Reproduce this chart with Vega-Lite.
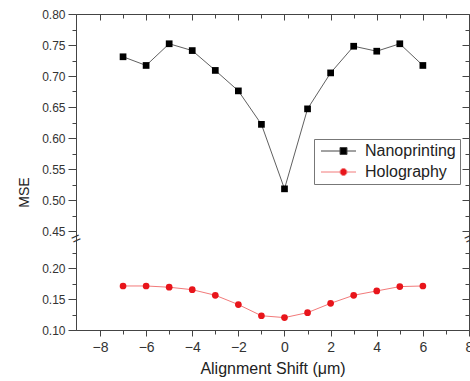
{
  "$schema": "https://vega.github.io/schema/vega-lite/v6.json",
  "width": 393,
  "height": 316,
  "autosize": "none",
  "padding": {"left": 76, "top": 14, "right": 1, "bottom": 51},
  "config": {
    "view": {"stroke": "#444", "strokeWidth": 1},
    "font": "Liberation Sans",
    "axis": {
      "domainColor": "#444",
      "tickColor": "#444",
      "labelColor": "#333",
      "titleColor": "#222",
      "grid": false,
      "labelFont": "Liberation Sans",
      "titleFont": "Liberation Sans",
      "titleFontWeight": "normal"
    }
  },
  "data": {
    "values": [
      {"x": -7, "y": 0.731, "series": "Nanoprinting"},
      {"x": -6, "y": 0.717, "series": "Nanoprinting"},
      {"x": -5, "y": 0.752, "series": "Nanoprinting"},
      {"x": -4, "y": 0.741, "series": "Nanoprinting"},
      {"x": -3, "y": 0.709, "series": "Nanoprinting"},
      {"x": -2, "y": 0.676, "series": "Nanoprinting"},
      {"x": -1, "y": 0.622, "series": "Nanoprinting"},
      {"x": 0, "y": 0.518, "series": "Nanoprinting"},
      {"x": 1, "y": 0.647, "series": "Nanoprinting"},
      {"x": 2, "y": 0.705, "series": "Nanoprinting"},
      {"x": 3, "y": 0.748, "series": "Nanoprinting"},
      {"x": 4, "y": 0.740, "series": "Nanoprinting"},
      {"x": 5, "y": 0.752, "series": "Nanoprinting"},
      {"x": 6, "y": 0.717, "series": "Nanoprinting"},
      {"x": -7, "y": 0.171, "series": "Holography"},
      {"x": -6, "y": 0.171, "series": "Holography"},
      {"x": -5, "y": 0.169, "series": "Holography"},
      {"x": -4, "y": 0.165, "series": "Holography"},
      {"x": -3, "y": 0.156, "series": "Holography"},
      {"x": -2, "y": 0.141, "series": "Holography"},
      {"x": -1, "y": 0.123, "series": "Holography"},
      {"x": 0, "y": 0.120, "series": "Holography"},
      {"x": 1, "y": 0.128, "series": "Holography"},
      {"x": 2, "y": 0.143, "series": "Holography"},
      {"x": 3, "y": 0.156, "series": "Holography"},
      {"x": 4, "y": 0.163, "series": "Holography"},
      {"x": 5, "y": 0.170, "series": "Holography"},
      {"x": 6, "y": 0.171, "series": "Holography"}
    ]
  },
  "layer": [
    {
      "mark": {"type": "line", "strokeWidth": 1},
      "encoding": {
        "x": {
          "field": "x", "type": "quantitative",
          "scale": {"domain": [-9.04, 8], "nice": false, "zero": false},
          "axis": {
            "title": "Alignment Shift (μm)",
            "titleFontSize": 16,
            "titlePadding": 6,
            "values": [-8, -7, -6, -5, -4, -3, -2, -1, 0, 1, 2, 3, 4, 5, 6, 7, 8],
            "labelExpr": "datum.value % 2 == 0 ? datum.label : ''",
            "labelFontSize": 14,
            "labelPadding": 4,
            "tickSize": {"condition": {"test": "datum.value % 2 == 0", "value": 6}, "value": 4},
            "labelFlush": false
          }
        },
        "y": {
          "field": "y", "type": "quantitative",
          "scale": {"domain": [0.10, 0.235, 0.45, 0.80], "range": [316, 232.3, 217, 0], "nice": false, "zero": false},
          "axis": {
            "title": "MSE",
            "titleFontSize": 14,
            "titlePadding": 10,
            "titleY": 178,
            "format": ".2f",
            "values": [0.10, 0.125, 0.15, 0.175, 0.20, 0.225, 0.45, 0.475, 0.50, 0.525, 0.55, 0.575, 0.60, 0.625, 0.65, 0.675, 0.70, 0.725, 0.75, 0.775, 0.80],
            "labelExpr": "round(datum.value * 1000) % 50 == 0 ? datum.label : ''",
            "labelFontSize": 12,
            "labelPadding": 3,
            "tickSize": {"condition": {"test": "round(datum.value * 1000) % 50 == 0", "value": 8}, "value": 4},
            "labelFlush": false
          }
        },
        "color": {
          "field": "series", "type": "nominal",
          "scale": {"domain": ["Nanoprinting", "Holography"], "range": ["#606060", "#f27a7a"]},
          "legend": null
        },
        "detail": {"field": "series"}
      }
    },
    {
      "mark": {"type": "point", "filled": true, "opacity": 1, "size": 45},
      "encoding": {
        "x": {"field": "x", "type": "quantitative", "axis": null},
        "y": {"field": "y", "type": "quantitative", "axis": null},
        "color": {
          "field": "series", "type": "nominal",
          "scale": {"domain": ["Nanoprinting", "Holography"], "range": ["#000000", "#e8151b"]},
          "legend": null
        },
        "shape": {
          "field": "series", "type": "nominal",
          "scale": {"domain": ["Nanoprinting", "Holography"], "range": ["square", "circle"]},
          "legend": null
        }
      }
    },
    {
      "transform": [{"filter": "datum.x > 100"}],
      "mark": {"type": "point", "filled": false, "opacity": 1, "strokeWidth": 1, "size": 100},
      "encoding": {
        "x": {"field": "x", "type": "quantitative", "axis": null},
        "y": {"field": "y", "type": "quantitative", "axis": null},
        "fill": {
          "field": "series", "type": "nominal",
          "scale": {"domain": ["Nanoprinting", "Holography"], "range": ["#000000", "#e8151b"]},
          "legend": {"title": null, "orient": "none", "legendX": 238, "legendY": 125, "strokeColor": "#777", "padding": 4, "rowPadding": 5, "labelFontSize": 16, "labelColor": "#222", "labelOffset": 31, "symbolSize": 100, "symbolStrokeWidth": 1}
        },
        "stroke": {
          "field": "series", "type": "nominal",
          "scale": {"domain": ["Nanoprinting", "Holography"], "range": ["#444444", "#f27a7a"]},
          "legend": {"title": null, "orient": "none", "legendX": 238, "legendY": 125, "strokeColor": "#777", "padding": 4, "rowPadding": 5, "labelFontSize": 16, "labelColor": "#222", "labelOffset": 31, "symbolSize": 100, "symbolStrokeWidth": 1}
        },
        "shape": {
          "field": "series", "type": "nominal",
          "scale": {"domain": ["Nanoprinting", "Holography"], "range": ["M-1,0H2.8M4.2,0H6M2.8,-0.7H4.2V0.7H2.8Z", "M-1,0H2.8M4.2,0H6M2.8,0A0.7,0.7 0 1,0 4.2,0A0.7,0.7 0 1,0 2.8,0Z"]},
          "legend": {"title": null, "orient": "none", "legendX": 238, "legendY": 125, "strokeColor": "#777", "padding": 4, "rowPadding": 5, "labelFontSize": 16, "labelColor": "#222", "labelOffset": 31, "symbolSize": 100, "symbolStrokeWidth": 1}
        }
      }
    },
    {
      "mark": {"type": "point", "opacity": 0},
      "encoding": {
        "x": {
          "field": "x", "type": "quantitative",
          "axis": {
            "orient": "top", "title": null, "labels": false, "domain": false,
            "values": [-8, -7, -6, -5, -4, -3, -2, -1, 0, 1, 2, 3, 4, 5, 6, 7, 8],
            "tickSize": {"condition": {"test": "datum.value % 2 == 0", "value": -6}, "value": -4}
          }
        },
        "y": {
          "field": "y", "type": "quantitative",
          "axis": {
            "orient": "right", "title": null, "labels": false, "domain": false,
            "values": [0.10, 0.125, 0.15, 0.175, 0.20, 0.225, 0.45, 0.475, 0.50, 0.525, 0.55, 0.575, 0.60, 0.625, 0.65, 0.675, 0.70, 0.725, 0.75, 0.775, 0.80],
            "tickSize": {"condition": {"test": "round(datum.value * 1000) % 50 == 0", "value": -7}, "value": -4}
          }
        }
      }
    },
    {
      "data": {"values": [{"bx": -9.04, "by": 0.3425, "t": "="}, {"bx": 8, "by": 0.3425, "t": "="}]},
      "mark": {"type": "text", "fontSize": 16, "angle": 335, "color": "#333", "baseline": "middle", "align": "center"},
      "encoding": {
        "x": {"field": "bx", "type": "quantitative", "axis": null},
        "y": {"field": "by", "type": "quantitative", "axis": null},
        "text": {"field": "t"}
      }
    }
  ],
  "resolve": {
    "axis": {"x": "independent", "y": "independent"},
    "scale": {"color": "independent", "shape": "independent", "fill": "independent", "stroke": "independent"}
  }
}
